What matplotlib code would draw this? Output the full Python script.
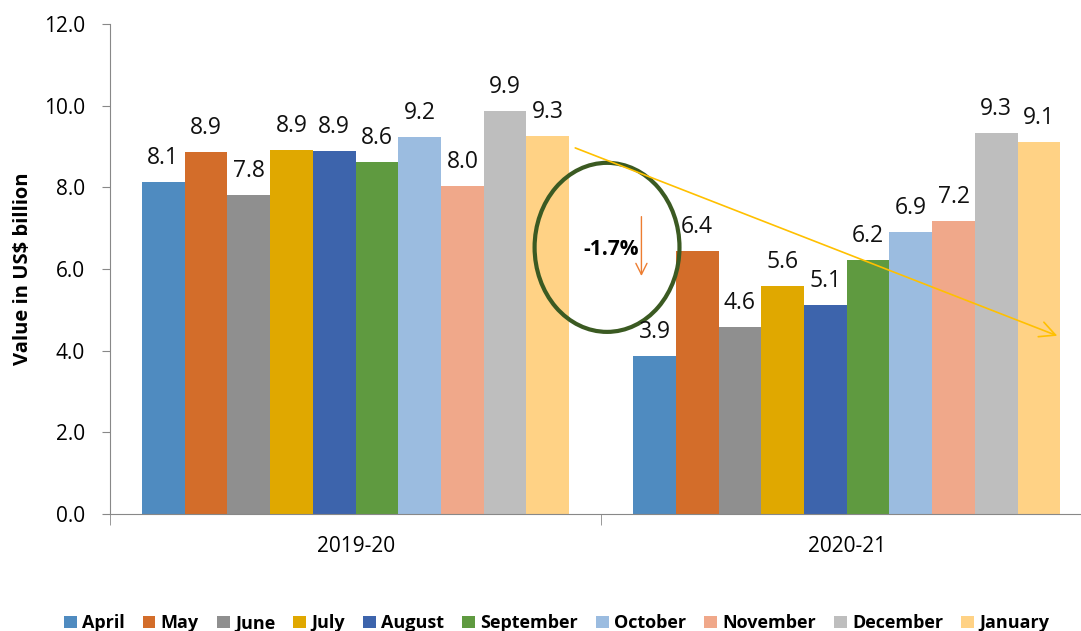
import matplotlib.pyplot as plt
import numpy as np
from matplotlib.patches import Ellipse

years = ['2019-20', '2020-21']
months = ['April', 'May', 'June', 'July', 'August', 'September',
          'October', 'November', 'December', 'January']
values_1920 = [8.13, 8.87, 7.81, 8.92, 8.89, 8.62, 9.23, 8.03, 9.87, 9.26]
values_2021 = [3.87, 6.44, 4.58, 5.58, 5.12, 6.22, 6.91, 7.18, 9.33, 9.11]
colors = ['#4F8BC0', '#D36D2A', '#8F8F8F', '#E0A800', '#3D64AC',
          '#5F9A40', '#9BBCE0', '#F0A88A', '#BEBEBE', '#FFD285']

plt.rcParams['font.family'] = ['Open Sans', 'DejaVu Sans']

fig = plt.figure(figsize=(10.81, 6.31), dpi=100)
ax = fig.add_axes([110 / 1081, 117 / 631, 1 - 110 / 1081, 490 / 631])

x = np.arange(len(years))
n = len(months)
w = 0.87 / n
for i, m in enumerate(months):
    vals = [values_1920[i], values_2021[i]]
    pos = x - 0.435 + w * (i + 0.5)
    bars = ax.bar(pos, vals, width=w, color=colors[i], label=m, linewidth=0)
    for b, v in zip(bars, vals):
        ax.annotate(f'{v:.1f}', (b.get_x() + b.get_width() / 2, v),
                    xytext=(0, 13), textcoords='offset points',
                    ha='center', va='baseline', fontsize=16.5,
                    color='#111111')

ax.set_ylim(0, 12)
ax.set_xlim(-0.5, 1.477)
ax.set_yticks(np.arange(0, 12.1, 2))
ax.set_yticklabels([f'{t:.1f}' for t in np.arange(0, 12.1, 2)], fontsize=15)
ax.set_xticks(x)
ax.set_xticklabels(years, fontsize=15)
ax.tick_params(axis='x', which='major', length=0, pad=16)
ax.set_xticks([-0.5, 0.5], minor=True)
ax.tick_params(axis='x', which='minor', length=8, color='#888888')
ax.tick_params(axis='y', length=6, color='#888888', pad=12)
for s in ['top', 'right']:
    ax.spines[s].set_visible(False)
for s in ['left', 'bottom']:
    ax.spines[s].set_color('#888888')

ax.set_ylabel('Value in US$ billion', fontsize=14.5, fontweight='bold',
              labelpad=8)

# trend annotations
ax.annotate('', xy=(1.434, 4.34), xytext=(0.442, 8.99),
            arrowprops=dict(arrowstyle='->', color='#FFC000', lw=1.2,
                            mutation_scale=28))
ax.annotate('', xy=(0.582, 5.76), xytext=(0.582, 7.35),
            arrowprops=dict(arrowstyle='->', color='#ED7D31', lw=1.0,
                            mutation_scale=20))
ax.add_patch(Ellipse((0.512, 6.53), 0.295, 4.14, fill=False,
                     edgecolor='#3B5A22', lw=3))
ax.text(0.52, 6.47, '-1.7%', ha='center', va='center', fontsize=15,
        fontweight='bold')

fig.legend(loc='lower center', bbox_to_anchor=(0.515, -0.028), ncol=10,
           frameon=False, handlelength=0.7, handleheight=0.7,
           handletextpad=0.3, columnspacing=1.0,
           prop={'weight': 'bold', 'size': 13})

fig.savefig('out.png', dpi=100)
